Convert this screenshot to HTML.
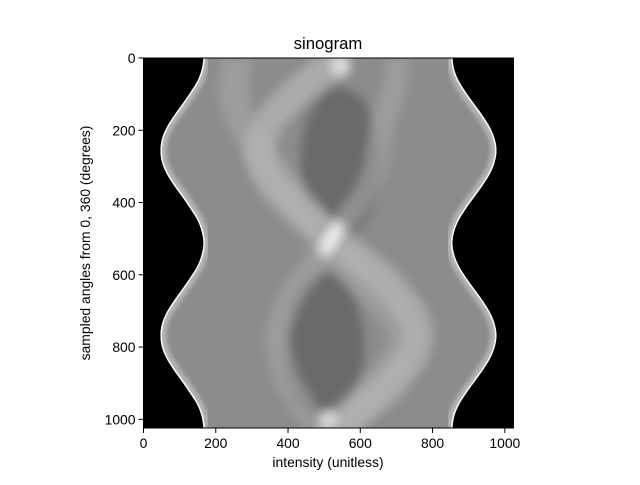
<!DOCTYPE html>
<html><head><meta charset="utf-8"><style>
body{margin:0;background:#fff;font-family:"Liberation Sans",sans-serif}
svg text{font-family:"Liberation Sans",sans-serif;fill:#000}
</style></head><body>
<svg id="c" width="640" height="480" xmlns="http://www.w3.org/2000/svg">
<defs>
<filter id="b8" x="-30%" y="-30%" width="160%" height="160%"><feGaussianBlur stdDeviation="5"/></filter>
<filter id="b2"><feGaussianBlur stdDeviation="2"/></filter>
<clipPath id="ax"><rect x="143.5" y="58" width="370" height="370"/></clipPath>
<clipPath id="obj"><path id="objp"/></clipPath>
</defs>
<rect x="143.5" y="58" width="370" height="370" fill="#000"/>
<g id="img" clip-path="url(#ax)"></g>
<g id="axes"></g>
<text x="328" y="49" font-size="16.7" text-anchor="middle">sinogram</text>
<text x="328" y="467" font-size="13.9" text-anchor="middle">intensity (unitless)</text>
<text transform="translate(90,243) rotate(-90)" font-size="13.9" text-anchor="middle">sampled angles from 0, 360 (degrees)</text>
</svg>
<script>
const angles=[0,32,64,96,128,160,192,224,256,288,320,352,384,416,448,480,512,544,576,608,640,672,704,736,768,800,832,864,896,928,960,992,1024];
const leftEdge=[166,161,149,129,107,84,64,51,47,51,64,84,107,129,149,161,166,161,149,129,107,84,64,51,47,51,64,84,107,129,149,161,166];
const rightEdge=[855,860,873,893,916,939,959,972,977,972,959,939,916,893,873,860,855,860,873,893,916,939,959,972,977,972,959,939,916,893,873,860,855];
const bandA=[540,500,460,420,390,360,340,325,320,325,340,360,390,420,460,500,540,580,620,660,690,715,740,755,760,755,740,715,690,660,620,580,540];
const bandB=[700,700,700,690,680,670,660,655,650,645,640,625,610,585,560,540,520,495,470,445,420,405,390,380,370,375,380,390,400,420,440,460,480];
const bandC=[260,255,250,250,255,265,280,300,320,345,370,395,420,445,470,490,510,540,570,600,630,660,690,710,720,715,700,680,650,620,590,560,530];
const ticks=[0,200,400,600,800,1000];
const X0=143.5,Y0=58,S=370/1024;
const sx=v=>X0+v*S, sy=v=>Y0+v*S;
const NS='http://www.w3.org/2000/svg';
function mk(t,a,p){const e=document.createElementNS(NS,t);for(const k in a)e.setAttribute(k,a[k]);(p||document.getElementById('img')).appendChild(e);return e;}
function bez(xs,ys){let d='M'+sx(xs[0])+','+sy(ys[0]);const n=xs.length;
 const g=j=>{j=Math.max(0,Math.min(n-1,j));return [sx(xs[j]),sy(ys[j])];};
 for(let i=1;i<n;i++){const [x0,y0]=g(i-2),[x1,y1]=g(i-1),[x,y]=g(i),[x3,y3]=g(i+1);
  d+=` C${x1+(x-x0)/6},${y1+(y-y0)/6} ${x-(x3-x1)/6},${y-(y3-y1)/6} ${x},${y}`;}return d;}
const curve=xs=>bez(xs,angles);
const L=curve(leftEdge),R=curve(rightEdge);
const obj=L+' L'+sx(rightEdge[rightEdge.length-1])+','+sy(1024)+bez(rightEdge.slice().reverse(),angles.slice().reverse()).replace(/^M[^ ]*/,'')+' Z';
document.getElementById('objp').setAttribute('d',obj);
const g=mk('g',{'clip-path':'url(#obj)'});


mk('rect',{x:X0,y:Y0,width:370,height:370,fill:'#8c8c8c'},g);
mk('ellipse',{cx:sx(545),cy:sy(290),rx:40,ry:75,fill:'#5e5e5e',opacity:0.75,filter:'url(#b8)'},g);
mk('ellipse',{cx:sx(500),cy:sy(800),rx:40,ry:75,fill:'#5e5e5e',opacity:0.75,filter:'url(#b8)'},g);
const pc=mk('path',{d:curve(bandC),stroke:'#a8a8a8',"stroke-width":30,fill:'none',opacity:0.6,filter:'url(#b8)'},g);


const pa=mk('path',{d:curve(bandA),stroke:'#b8b8b8',"stroke-width":30,fill:'none',opacity:0.7,filter:'url(#b8)'},g);


const pb=mk('path',{d:curve(bandB),stroke:'#a8a8a8',"stroke-width":24,fill:'none',opacity:0.6,filter:'url(#b8)'},g);


mk('ellipse',{cx:sx(520),cy:sy(500),rx:8,ry:20,fill:'#f2f2f2',opacity:0.9,filter:'url(#b8)',transform:`rotate(30 ${sx(520)} ${sy(500)})`},g);
mk('ellipse',{cx:sx(545),cy:sy(20),rx:10,ry:12,fill:'#e6e6e6',opacity:0.8,filter:'url(#b8)'},g);
mk('ellipse',{cx:sx(510),cy:sy(1005),rx:10,ry:12,fill:'#e6e6e6',opacity:0.8,filter:'url(#b8)'},g);
for(const d of [L,R]){
 mk('path',{d,stroke:'#d8d8d8',"stroke-width":12,fill:'none',opacity:0.55,filter:'url(#b2)'},g);
 mk('path',{d,stroke:'#fff',"stroke-width":3,fill:'none',opacity:0.9},g);
}
const ax=document.getElementById('axes');
mk('rect',{x:X0,y:Y0,width:370,height:370,fill:'none',stroke:'#000','stroke-width':1},ax);
for(const t of ticks){
 mk('line',{x1:sx(t),x2:sx(t),y1:Y0+370,y2:Y0+375,stroke:'#000'},ax);
 const tx=mk('text',{x:sx(t),y:Y0+390,'font-size':13.9,'text-anchor':'middle'},ax);tx.textContent=t;
 
 
 mk('line',{x1:X0-5,x2:X0,y1:sy(t),y2:sy(t),stroke:'#000'},ax);
 const ty=mk('text',{x:X0-8,y:sy(t)+5,'font-size':13.9,'text-anchor':'end'},ax);ty.textContent=t;
 
 
}
</script>
</body></html>
